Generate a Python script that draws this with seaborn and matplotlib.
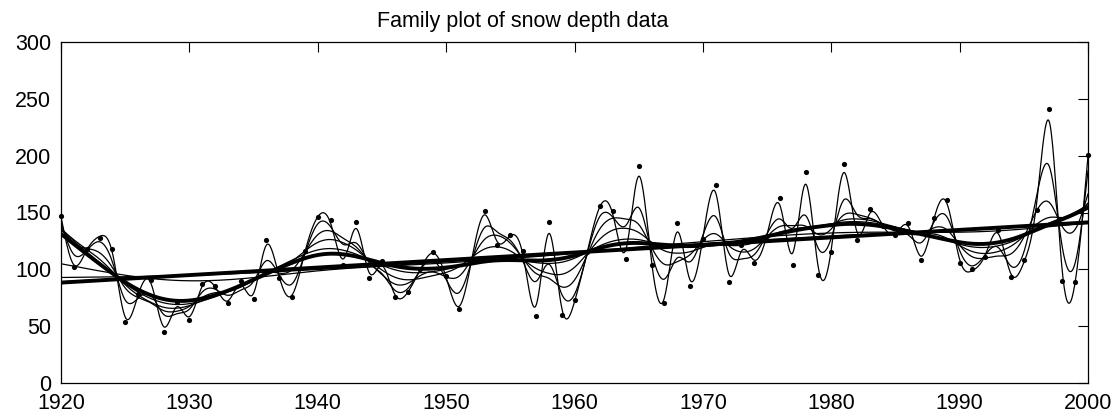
import numpy as np
import pandas as pd
import matplotlib
matplotlib.use("Agg")
import matplotlib.pyplot as plt
import seaborn as sns

# Annual snow depth observations
years = np.arange(1920, 2001)
depth = [147, 102, 118, 128, 118, 54, 78, 91, 45, 71,
         55, 87, 85, 70, 90, 74, 126, 92, 76, 116,
         146, 143, 104, 142, 92, 107, 76, 80, 100, 115,
         94, 65, 109, 151, 121, 130, 116, 59, 142, 60,
         73, 115, 156, 151, 109, 191, 104, 70, 141, 85,
         127, 174, 89, 121, 106, 129, 163, 104, 186, 95,
         115, 193, 126, 153, 138, 130, 141, 108, 145, 161,
         106, 100, 111, 135, 93, 108, 152, 241, 90, 89,
         201]

# Roughness penalties for the family of smoothing splines
thin_penalties = [0.01, 0.12, 0.8, 5, 25, 1500, 2e4, 2e5]
thick_penalties = [60, 1e8]

x_ticks = [1920, 1930, 1940, 1950, 1960, 1970, 1980, 1990, 2000]
y_ticks = [0, 50, 100, 150, 200, 250, 300]


def smoothing_spline(x, y, lam, grid):
    """Cubic smoothing spline (Reinsch form), evaluated on grid."""
    x = np.asarray(x, float)
    y = np.asarray(y, float)
    n = len(x)
    h = np.diff(x)
    Q = np.zeros((n, n - 2))
    R = np.zeros((n - 2, n - 2))
    for j in range(1, n - 1):
        Q[j - 1, j - 1] = 1 / h[j - 1]
        Q[j, j - 1] = -1 / h[j - 1] - 1 / h[j]
        Q[j + 1, j - 1] = 1 / h[j]
        R[j - 1, j - 1] = (h[j - 1] + h[j]) / 3
        if j < n - 2:
            R[j - 1, j] = R[j, j - 1] = h[j] / 6
    K = Q @ np.linalg.solve(R, Q.T)
    g = np.linalg.solve(np.eye(n) + lam * K, y)
    gam = np.zeros(n)
    gam[1:-1] = np.linalg.solve(R, Q.T @ g)
    idx = np.clip(np.searchsorted(x, grid, side="right") - 1, 0, n - 2)
    xl, xr = x[idx], x[idx + 1]
    hh = xr - xl
    a = grid - xl
    b = xr - grid
    return (a * g[idx + 1] + b * g[idx]) / hh - a * b / 6 * (
        (1 + a / hh) * gam[idx + 1] + (1 + b / hh) * gam[idx])


sns.set_theme(style="white")
plt.rcParams["font.family"] = ["Liberation Sans", "DejaVu Sans"]

fig = plt.figure(figsize=(11.19, 4.2), dpi=100)
ax = fig.add_axes([61 / 1119, 37 / 420, 1027 / 1119, 341 / 420])

grid = np.linspace(1920, 2000, 1601)
for lam in thin_penalties:
    curve = pd.DataFrame({"year": grid,
                          "fit": smoothing_spline(years, depth, lam, grid)})
    sns.lineplot(data=curve, x="year", y="fit", ax=ax, color="black",
                 lw=0.9, estimator=None, sort=False)
for lam in thick_penalties:
    curve = pd.DataFrame({"year": grid,
                          "fit": smoothing_spline(years, depth, lam, grid)})
    sns.lineplot(data=curve, x="year", y="fit", ax=ax, color="black",
                 lw=2.8, estimator=None, sort=False)

obs = pd.DataFrame({"year": years, "depth": depth})
sns.scatterplot(data=obs, x="year", y="depth", ax=ax, color="black",
                s=14, linewidth=0, zorder=5, clip_on=False)

ax.set_xlim(1920, 2000)
ax.set_ylim(0, 300)
ax.set_xticks(x_ticks)
ax.set_yticks(y_ticks)
ax.set_xlabel("")
ax.set_ylabel("")
ax.tick_params(direction="in", length=7, width=0.8, top=True, right=True,
               labelsize=15.5, colors="black")
ax.tick_params(axis="x", pad=7)
ax.tick_params(axis="y", pad=7)
for sp in ax.spines.values():
    sp.set_visible(True)
    sp.set_color("black")
    sp.set_linewidth(0.9)

fig.text(523 / 1119, 1 - 27 / 420, "Family plot of snow depth data",
         ha="center", va="baseline", fontsize=15.5, color="black")

fig.savefig("out.png", dpi=100, facecolor="white")
